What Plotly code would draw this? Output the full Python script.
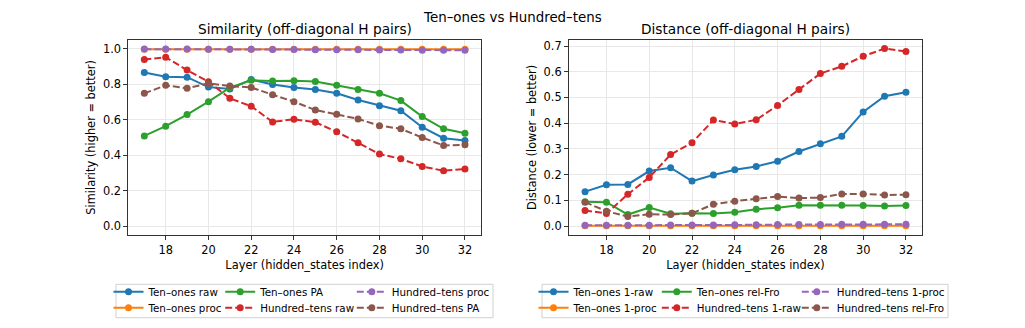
import plotly.graph_objects as go

# layers (hidden_states index)
layers = list(range(17, 33))

# similarity (higher = better)
sim_ten_raw = [0.865, 0.841, 0.839, 0.783, 0.772, 0.826, 0.798, 0.781, 0.770, 0.748, 0.710, 0.678, 0.650, 0.557, 0.495, 0.482]
sim_ten_proc = [0.996, 0.996, 0.996, 0.996, 0.996, 0.996, 0.996, 0.996, 0.996, 0.996, 0.996, 0.996, 0.996, 0.996, 0.996, 0.996]
sim_ten_pa = [0.508, 0.563, 0.628, 0.701, 0.780, 0.821, 0.817, 0.819, 0.815, 0.794, 0.770, 0.748, 0.707, 0.617, 0.548, 0.523]
sim_hun_raw = [0.938, 0.951, 0.879, 0.813, 0.720, 0.675, 0.587, 0.602, 0.585, 0.531, 0.469, 0.406, 0.379, 0.336, 0.312, 0.322]
sim_hun_proc = [0.997, 0.997, 0.997, 0.996, 0.996, 0.996, 0.995, 0.995, 0.994, 0.993, 0.993, 0.992, 0.992, 0.991, 0.991, 0.991]
sim_hun_pa = [0.748, 0.793, 0.776, 0.804, 0.789, 0.781, 0.740, 0.701, 0.654, 0.630, 0.604, 0.566, 0.548, 0.499, 0.454, 0.458]

# distance (lower = better)
dist_ten_raw = [0.134, 0.161, 0.162, 0.214, 0.227, 0.175, 0.199, 0.219, 0.232, 0.252, 0.290, 0.320, 0.349, 0.444, 0.505, 0.520]
dist_ten_proc = [0.001, 0.001, 0.001, 0.001, 0.001, 0.001, 0.001, 0.001, 0.001, 0.001, 0.001, 0.001, 0.001, 0.001, 0.001, 0.001]
dist_ten_fro = [0.095, 0.093, 0.045, 0.072, 0.048, 0.050, 0.049, 0.054, 0.066, 0.071, 0.081, 0.081, 0.081, 0.080, 0.078, 0.080]
dist_hun_raw = [0.061, 0.049, 0.124, 0.189, 0.278, 0.324, 0.412, 0.397, 0.413, 0.469, 0.531, 0.593, 0.621, 0.660, 0.690, 0.679]
dist_hun_proc = [0.003, 0.003, 0.003, 0.003, 0.004, 0.004, 0.004, 0.005, 0.005, 0.006, 0.006, 0.006, 0.007, 0.007, 0.007, 0.007]
dist_hun_fro = [0.093, 0.058, 0.037, 0.046, 0.045, 0.050, 0.085, 0.097, 0.106, 0.115, 0.109, 0.111, 0.125, 0.125, 0.121, 0.122]

x_ticks = [18, 20, 22, 24, 26, 28, 30, 32]

BLUE, ORANGE, GREEN, RED, PURPLE, BROWN = '#1f77b4', '#ff7f0e', '#2ca02c', '#d62728', '#9467bd', '#8c564b'
FONT = 'DejaVu Sans, sans-serif'

# the page body has an 8px margin, so the figure is sized to fit the window
OFF = 8
W, H = 1025 - OFF, 328 - OFF

left_series = [
    ('Ten–ones raw', sim_ten_raw, BLUE, False),
    ('Ten–ones proc', sim_ten_proc, ORANGE, False),
    ('Ten–ones PA', sim_ten_pa, GREEN, False),
    ('Hundred–tens raw', sim_hun_raw, RED, True),
    ('Hundred–tens proc', sim_hun_proc, PURPLE, True),
    ('Hundred–tens PA', sim_hun_pa, BROWN, True),
]
right_series = [
    ('Ten–ones 1-raw', dist_ten_raw, BLUE, False),
    ('Ten–ones 1-proc', dist_ten_proc, ORANGE, False),
    ('Ten–ones rel-Fro', dist_ten_fro, GREEN, False),
    ('Hundred–tens 1-raw', dist_hun_raw, RED, True),
    ('Hundred–tens 1-proc', dist_hun_proc, PURPLE, True),
    ('Hundred–tens rel-Fro', dist_hun_fro, BROWN, True),
]

# window pixel -> paper coordinates
px = lambda v: (v - OFF) / W
py = lambda v: 1 - (v - OFF) / H

# legend grid (3 columns x 2 rows, filled column-wise like matplotlib)
left_cols = [130, 241.7, 373.3]
right_cols = [555, 678.3, 818.3]
rows = [291.7, 307.7]

fig = go.Figure()
legends = {}
n = 0
for series, xa, ya, cols in [(left_series, 'x', 'y', left_cols), (right_series, 'x2', 'y2', right_cols)]:
    for i, (name, vals, color, dashed) in enumerate(series):
        n += 1
        key = 'legend' if n == 1 else f'legend{n}'
        fig.add_trace(go.Scatter(
            x=layers, y=vals, name=name, mode='lines+markers',
            line=dict(color=color, width=2, dash='7px,3px' if dashed else 'solid'),
            marker=dict(color=color, size=7),
            xaxis=xa, yaxis=ya, legend=key,
        ))
        legends[key] = dict(
            x=px(cols[i // 2] - 21.5), y=py(rows[i % 2]),
            xanchor='left', yanchor='middle', orientation='h',
            bgcolor='rgba(0,0,0,0)', borderwidth=0, itemclick=False,
            font=dict(family=FONT, size=10.3, color='black'),
        )

axis_common = dict(
    showline=True, mirror=True, linecolor='#333333', linewidth=1,
    ticks='outside', ticklen=4, tickcolor='#333333',
    showgrid=True, gridcolor='#e8e8e8', gridwidth=1, zeroline=False,
    tickfont=dict(family=FONT, size=11.4, color='black'),
)
xaxis_common = dict(axis_common, tickvals=x_ticks, range=[16.25, 32.75],
                    title=dict(text='Layer (hidden_states index)', standoff=5,
                               font=dict(family=FONT, size=11.4, color='black')))

fig.update_layout(
    width=W, height=H,
    margin=dict(l=0, r=0, t=0, b=0),
    plot_bgcolor='white', paper_bgcolor='white',
    font=dict(family=FONT, size=11.4, color='black'),
    xaxis=dict(xaxis_common, domain=[px(128.3), px(481)], anchor='y'),
    yaxis=dict(axis_common, domain=[py(235), py(39.7)], anchor='x',
               range=[-0.05, 1.05], tickvals=[0, 0.2, 0.4, 0.6, 0.8, 1.0], tickformat='.1f',
               title=dict(text='Similarity (higher = better)', standoff=4,
                          font=dict(family=FONT, size=11.4, color='black'))),
    xaxis2=dict(xaxis_common, domain=[px(569), px(922)], anchor='y2'),
    yaxis2=dict(axis_common, domain=[py(235), py(39.7)], anchor='x2',
                range=[-0.0345, 0.7245], tickvals=[0, 0.1, 0.2, 0.3, 0.4, 0.5, 0.6, 0.7], tickformat='.1f',
                title=dict(text='Distance (lower = better)', standoff=4,
                           font=dict(family=FONT, size=11.4, color='black'))),
    showlegend=True,
    **legends,
)

# legend frames
for x0, x1 in [(116, 493), (542, 948)]:
    fig.add_shape(type='rect', xref='paper', yref='paper', layer='below',
                  x0=px(x0), x1=px(x1), y0=py(317.7), y1=py(284.3),
                  line=dict(color='#d0d0d0', width=1), fillcolor='white')

# titles
fig.add_annotation(text='Ten–ones vs Hundred–tens', xref='paper', yref='paper',
                   x=px(512.5), y=1, xanchor='center', yanchor='top', showarrow=False,
                   font=dict(family=FONT, size=13.4, color='black'))
for text, x0, x1 in [('Similarity (off-diagonal H pairs)', 128.3, 481),
                     ('Distance (off-diagonal H pairs)', 569, 922)]:
    fig.add_annotation(text=text, xref='paper', yref='paper',
                       x=px((x0 + x1) / 2), y=py(29.3), xanchor='center', yanchor='middle',
                       showarrow=False, font=dict(family=FONT, size=13.7, color='black'))

fig.write_html("out.html")
